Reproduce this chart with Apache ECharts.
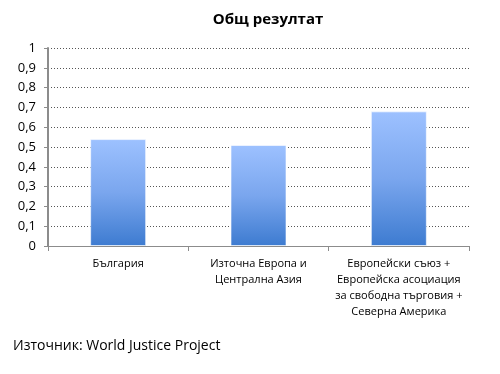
<!DOCTYPE html>
<html><head><meta charset="utf-8">
<script src="https://cdn.jsdelivr.net/npm/echarts@6/dist/echarts.min.js"></script>
<style>html,body{margin:0;padding:0;background:#fff}#c{width:500px;height:374px}</style>
</head><body><div id="c"></div>
<script>
const categories = ["България", "Източна Европа и\nЦентрална Азия", "Европейски съюз +\nЕвропейска асоциация\nза свободна търговия +\nСеверна Америка"];
const values = [0.54, 0.51, 0.68];
const yTicks = [0, 0.1, 0.2, 0.3, 0.4, 0.5, 0.6, 0.7, 0.8, 0.9, 1];
const titleText = "Общ резултат";
const sourceText = "Източник: World Justice Project";

const chart = echarts.init(document.getElementById('c'), null, {renderer: 'canvas'});
const font = "'Open Sans', 'Noto Sans', sans-serif";
chart.setOption({
  animation: false,
  backgroundColor: '#fff',
  title: [{
    text: titleText, left: 268, top: 12, textAlign: 'center', padding: 0,
    textStyle: {fontFamily: font, fontSize: 15, fontWeight: 'bold', color: '#000'}
  }, {
    text: sourceText, left: 13, top: 339, padding: 0,
    textStyle: {fontFamily: font, fontSize: 14, fontWeight: 'normal', color: '#000'}
  }],
  grid: {left: 48, right: 31, top: 48, bottom: 128, containLabel: false},
  xAxis: {
    type: 'category', data: categories,
    axisLine: {lineStyle: {color: '#8c8c8c', width: 1}},
    axisTick: {show: true, length: 5, lineStyle: {color: '#8c8c8c'}},
    axisLabel: {fontFamily: font, fontSize: 11, color: '#000', lineHeight: 16, margin: 10, interval: 0}
  },
  yAxis: {
    type: 'value', min: 0, max: 1, interval: 0.1,
    axisLine: {show: true, lineStyle: {color: '#8c8c8c', width: 2}},
    axisTick: {show: true, length: 4, lineStyle: {color: '#8c8c8c'}},
    splitLine: {show: true, lineStyle: {color: '#555', type: [1, 2], width: 1}},
    axisLabel: {
      fontFamily: font, fontSize: 13, color: '#000', margin: 12,
      formatter: v => {
        const t = yTicks.find(x => Math.abs(x - v) < 1e-9);
        return t === undefined ? '' : String(Math.round(t * 10) / 10).replace('.', ',');
      }
    }
  },
  series: [{
    type: 'bar', data: values, barWidth: 56,
    itemStyle: {
      color: new echarts.graphic.LinearGradient(0, 0, 0, 1, [
        {offset: 0, color: '#9dc1ff'},
        {offset: 0.5, color: '#7aa6ee'},
        {offset: 1, color: '#3d7bd0'}
      ]),
      borderColor: 'rgba(255,255,255,0.6)', borderWidth: 1
    }
  }]
});
</script></body></html>
